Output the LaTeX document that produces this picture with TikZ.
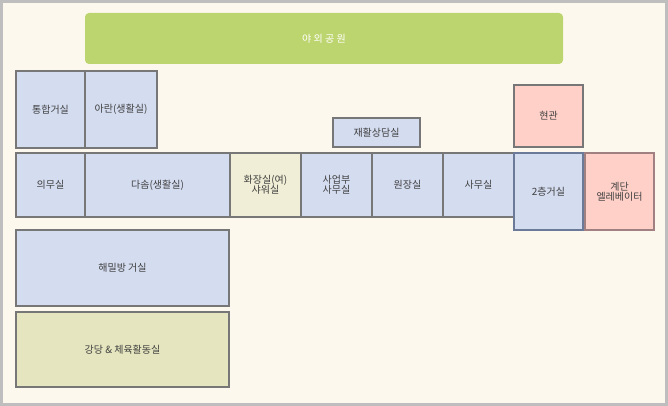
\documentclass[tikz,border=0pt]{standalone}
\usepackage{fontspec}
\newfontfamily\kr{Noto Sans CJK KR}
\definecolor{bg}{HTML}{FCF8EE}
\definecolor{frame}{HTML}{BEBEBE}
\definecolor{rb}{HTML}{D4DCF0}
\definecolor{rp}{HTML}{FFD0C8}
\definecolor{rc}{HTML}{F0EED6}
\definecolor{ro}{HTML}{E5E6BF}
\definecolor{gr}{HTML}{BDD56E}
\definecolor{ln}{HTML}{777777}
\definecolor{lnb}{HTML}{6B7A99}
\definecolor{lnp}{HTML}{A08080}
\tikzset{room/.style={draw=ln,line width=1.6pt,fill=rb,inner sep=0pt,align=center,text=black!75,font=\kr\fontsize{10}{12}\selectfont}}
\begin{document}
\begin{tikzpicture}[x=1pt,y=-1pt]
\useasboundingbox (0,0) rectangle (668,406);
\draw[fill=bg,draw=frame,line width=3pt] (1.5,1.5) rectangle (666.5,404.5);
\node[fill=gr,rounded corners=4pt,text=white,font=\kr\fontsize{10}{12}\selectfont,minimum width=478pt,minimum height=51pt] (park) at (324,38.5) {야 외 공 원};
\newcommand\room[7]{\node[room,#6,minimum width=#4pt-#2pt,minimum height=#5pt-#3pt] (#1) at ({(#2+#4)/2},{(#3+#5)/2}) {#7};}
\room{a}{16}{71}{85}{148}{}{통합거실}
\room{b}{85}{71}{157}{148}{}{아란(생활실)}
\room{c}{333}{118}{420}{147}{}{재활상담실}
\room{d}{514}{85}{583}{147}{fill=rp}{현관}
\room{e}{16}{153}{85}{217}{}{의무실}
\room{f}{85}{153}{230}{217}{}{다솜(생활실)}
\room{g}{230}{153}{301}{217}{fill=rc}{화장실(여)\\[-2pt]샤워실}
\room{h}{301}{153}{372}{217}{}{사업부\\[-2pt]사무실}
\room{i}{372}{153}{443}{217}{}{원장실}
\room{j}{443}{153}{514}{217}{}{사무실}
\room{k}{514}{153}{583}{230}{draw=lnb}{2층거실}
\room{l}{585}{153}{654}{230}{fill=rp,draw=lnp}{계단\\[-2pt]엘레베이터}
\room{m}{16}{230}{229}{306}{}{해밀방 거실}
\room{n}{16}{312}{229}{387}{fill=ro}{강당 \& 체육활동실}
\end{tikzpicture}
\end{document}
